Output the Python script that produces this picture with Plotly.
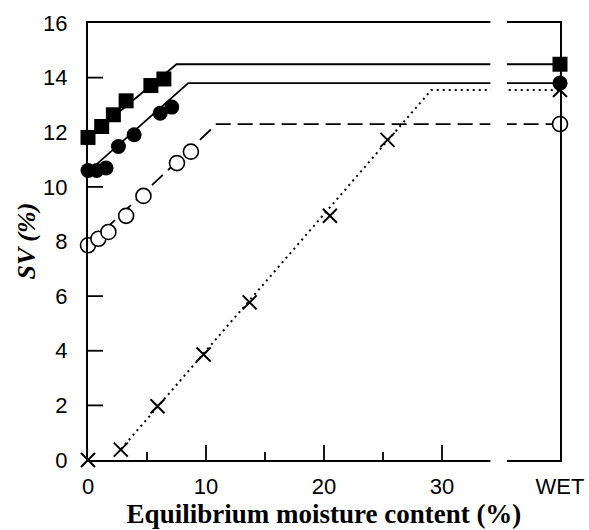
import plotly.graph_objects as go

# ---- data ----
WET = 40  # position used for the "WET" category on the x axis

sq_x = [0, 1.16, 2.15, 3.23, 5.33, 6.43]
sq_y = [11.81, 12.21, 12.64, 13.15, 13.71, 13.95]
sq_wet = 14.49
sq_fit_x = [0, 7.5, WET]
sq_fit_y = [11.8, 14.49, 14.49]

fc_x = [0, 0.74, 1.53, 2.58, 3.91, 6.12, 7.1]
fc_y = [10.60, 10.60, 10.69, 11.48, 11.91, 12.70, 12.92]
fc_wet = 13.80
fc_fit_x = [0, 8.5, WET]
fc_fit_y = [10.55, 13.80, 13.80]

oc_x = [0, 0.88, 1.73, 3.23, 4.7, 7.54, 8.72]
oc_y = [7.86, 8.10, 8.35, 8.94, 9.67, 10.87, 11.29]
oc_wet = 12.30
oc_fit_x = [0, 10.9, WET]
oc_fit_y = [7.85, 12.30, 12.30]

cr_x = [0, 2.78, 5.89, 9.8, 13.7, 20.5, 25.38]
cr_y = [0, 0.38, 1.97, 3.86, 5.77, 8.94, 11.72]
cr_wet = 13.55
cr_fit_x = [2.8, 29.1, WET]
cr_fit_y = [0.4, 13.55, 13.55]

x_tickvals = [0, 10, 20, 30, WET]
x_ticktext = ["0", "10", "20", "30", "WET"]
x_major_marks = [10, 20, 30]
x_minor = [5, 15, 25]
y_tickvals = [0, 2, 4, 6, 8, 10, 12, 14, 16]
y_tick_marks = [2, 4, 6, 8, 10, 12, 14]
x_range = [0, WET]
y_range = [0, 16]

break_x = [34.1, 35.5]  # axis break

# ---- layout geometry ----
W, H = 589, 530
M = dict(l=88, r=29, t=23, b=70)
plot_w = W - M["l"] - M["r"]
plot_h = H - M["t"] - M["b"]
px_x = (x_range[1] - x_range[0]) / plot_w   # data units per pixel (x)
px_y = (y_range[1] - y_range[0]) / plot_h   # data units per pixel (y)
MAJOR_LEN, MINOR_LEN = 15, 8

fig = go.Figure()

# fitted lines
fig.add_trace(go.Scatter(x=sq_fit_x, y=sq_fit_y, mode="lines",
                         line=dict(color="black", width=1.8), hoverinfo="skip"))
fig.add_trace(go.Scatter(x=fc_fit_x, y=fc_fit_y, mode="lines",
                         line=dict(color="black", width=1.8), hoverinfo="skip"))
fig.add_trace(go.Scatter(x=oc_fit_x, y=oc_fit_y, mode="lines",
                         line=dict(color="black", width=1.8, dash="15px,7px"), hoverinfo="skip"))
fig.add_trace(go.Scatter(x=cr_fit_x, y=cr_fit_y, mode="lines",
                         line=dict(color="black", width=2, dash="2px,4px"), hoverinfo="skip"))

# inward tick marks: one short segment per tick value
for v in y_tick_marks:
    fig.add_trace(go.Scatter(x=[x_range[0], x_range[0] + MAJOR_LEN * px_x], y=[v, v],
                             mode="lines", line=dict(color="black", width=1.8), hoverinfo="skip"))
for v in x_major_marks:
    fig.add_trace(go.Scatter(x=[v, v], y=[y_range[0], y_range[0] + MAJOR_LEN * px_y],
                             mode="lines", line=dict(color="black", width=1.8), hoverinfo="skip"))
for v in x_minor:
    fig.add_trace(go.Scatter(x=[v, v], y=[y_range[0], y_range[0] + MINOR_LEN * px_y],
                             mode="lines", line=dict(color="black", width=1.8), hoverinfo="skip"))

# markers (data + WET)
fig.add_trace(go.Scatter(x=sq_x + [WET], y=sq_y + [sq_wet], mode="markers", cliponaxis=False,
                         marker=dict(symbol="square", size=15, color="black")))
fig.add_trace(go.Scatter(x=fc_x + [WET], y=fc_y + [fc_wet], mode="markers", cliponaxis=False,
                         marker=dict(symbol="circle", size=15, color="black")))
fig.add_trace(go.Scatter(x=oc_x + [WET], y=oc_y + [oc_wet], mode="markers", cliponaxis=False,
                         marker=dict(symbol="circle", size=15, color="white",
                                     line=dict(color="black", width=1.6))))
fig.add_trace(go.Scatter(x=cr_x + [WET], y=cr_y + [cr_wet], mode="markers", cliponaxis=False,
                         marker=dict(symbol="x-thin", size=14, color="black",
                                     line=dict(color="black", width=2))))

# axis break (white band cutting axis lines and data lines)
fig.add_shape(type="rect", xref="x", yref="paper",
              x0=break_x[0], x1=break_x[1], y0=-0.03, y1=1.03,
              fillcolor="white", line=dict(width=0), layer="above")

tick_font = dict(family="Liberation Sans, Arial, sans-serif", size=22, color="black")

fig.update_layout(
    width=W, height=H,
    margin=dict(**M, autoexpand=False),
    paper_bgcolor="white", plot_bgcolor="white",
    showlegend=False,
    xaxis=dict(
        range=x_range, tickmode="array", tickvals=x_tickvals, ticktext=x_ticktext,
        ticks="", showline=True, linewidth=2, linecolor="black", mirror=True,
        showgrid=False, zeroline=False, tickfont=tick_font, automargin=False,
        ticklabelstandoff=6,
        title=dict(text="<b>Equilibrium moisture content (%)</b>",
                   font=dict(family="Liberation Serif, Times New Roman, serif", size=27, color="black"),
                   standoff=0),
    ),
    yaxis=dict(
        range=y_range, tickmode="array", tickvals=y_tickvals,
        ticks="", showline=True, linewidth=2, linecolor="black", mirror=True,
        showgrid=False, zeroline=False, tickfont=tick_font, automargin=False,
        ticklabelstandoff=14,
    ),
    annotations=[dict(
        text="<b><i>SV (%)</i></b>", textangle=-90, showarrow=False,
        xref="paper", yref="paper", x=0, y=0.5, xanchor="center", yanchor="middle",
        xshift=-62, yshift=0,
        font=dict(family="Liberation Serif, Times New Roman, serif", size=26, color="black"),
    )],
)

fig.write_html("out.html")
